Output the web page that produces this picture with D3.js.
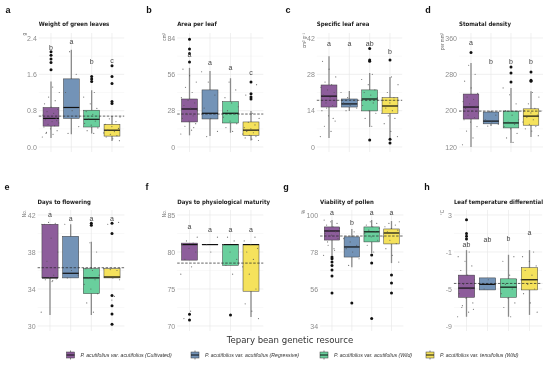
<!DOCTYPE html>
<html><head><meta charset="utf-8">
<script src="https://cdn.jsdelivr.net/npm/d3@7"></script>
<style>body{margin:0;background:#fff}svg{display:block;will-change:transform}text{-webkit-font-smoothing:antialiased}</style>
</head><body><svg id="c" width="550" height="366"></svg>
<script>
// ---------- DATA ----------
const groups = ["P. acutifolius var. acutifolius  (Cultivated)","P. acutifolius var. acutifolius (Regressive)","P. acutifolius var. acutifolius (Wild)","P. acutifolius var. tenuifolius (Wild)"];
const panelIds = ["a","b","c","d","e","f","g","h"];
const panelTitles = ["Weight of green leaves","Area per leaf","Specific leaf area","Stomatal density","Days to flowering","Days to physiological maturity","Viability of pollen","Leaf temperature differential"];
const panelUnits = ["g","cm²","cm² g⁻¹","per mm²","No.","No.","%","°C"];
const xTitle = "Tepary bean genetic resource";

// box stats per group: [lower whisker, q1, median, q3, upper whisker]
const aTicks=[0,0.8,1.6,2.4], aTickLabels=["0.0","0.8","1.6","2.4"];
const aBox=[[0.2,0.46,0.63,0.87,1.44],[0.28,0.63,0.87,1.5,2.14],[0.3,0.44,0.61,0.81,1.25],[0.13,0.24,0.37,0.5,0.68]];
const aOut=[[2.1,2.02,1.94,1.86,1.7],[],[1.55,1.5,1.44],[1.79,1.55,1.4,1.0,0.96]];
const aPts=[[0.22,0.28,0.32,0.36,0.4,0.44,0.47,0.5,0.53,0.56,0.6,0.63,0.66,0.7,0.74,0.78,0.83,0.88,0.95,1.02,1.1,1.2,1.32,0.3,0.58],[0.3,0.45,0.8,1.2,1.6,2.1],[0.3,0.36,0.42,0.48,0.52,0.57,0.62,0.66,0.72,0.78,0.85,0.95,1.1,1.2],[0.14,0.18,0.22,0.25,0.28,0.31,0.34,0.37,0.41,0.45,0.5,0.56,0.62,0.66]];
const aSig=["b","a","b","c"], aSigAt=[2.2,2.33,1.88,1.9], aMean=0.68;

const bTicks=[0,28,56,84], bTickLabels=["0","28","56","84"];
const bBox=[[9,19.3,29.3,37,61],[8.5,21.6,26,44,58.5],[11,18.5,26,35,53],[5,9,13,19.3,27.7]];
const bOut=[[83,75.5,72,65.5],[],[],[50,41,38.5,37]];
const bPts=[[10,13,16,18,20,22,24,26,28,30,32,34,36,38,42,46,50,55,60,15,25],[8,12,22,30,40,50,58],[12,15,18,20,23,26,28,31,34,38,44,50],[5,6,7,8,9,10,11,12,13,14,15,17,19,22,26,40,48]];
const bSig=["a","a","a","c"], bSigAt=[70.9,64.7,60.9,57], bMean=25.4;

const cTicks=[0,14,28,42], cTickLabels=["0","14","28","42"];
const cBox=[[3.5,15.4,19.6,23.9,35],[13.9,15.4,16.6,18.5,21.6],[7.7,13.9,18.5,22,28.5],[3.5,13,15.8,19,27]];
const cOut=[[],[],[38,33.5,33,2.7],[33.5,3,1.5]];
const cPts=[[4,6,8,10,12,14,16,17,18,19,20,21,22,23,24,25,27,30,33,11,15],[14,15,16,17,18,19,21],[8,11,13,14,16,17,18,19,20,21,22,24,26,28],[4,6,9,11,12,13,14,15,16,17,18,19,21,24,27]];
const cSig=["a","a","ab","b"], cSigAt=[40,39.7,40,36.6], cMean=18;

const dTicks=[120,200,280,360], dTickLabels=["120","200","280","360"];
const dBox=[[120,181.6,208,236.6,305],[166,171,177,197,199],[129,162,173,199,250],[142,168,188,204,243]];
const dOut=[[328],[],[296,283,263],[285,267,265]];
const dPts=[[125,140,155,165,175,180,185,190,195,200,205,210,215,220,225,230,238,250,265,280,300],[166,170,175,180,190,198],[130,140,150,160,165,170,175,180,190,200,215,235,250],[145,155,160,165,170,175,180,185,190,195,200,205,215,230,240]];
const dSig=["a","b","b","b"], dSigAt=[349,309,309,309], dMean=199;

const eTicks=[30,34,38,42], eTickLabels=["30","34","38","42"];
const eBox=[[31.2,35.2,35.2,41,41],[35.2,35.2,35.7,39.7,41],[31.2,33.5,35.2,36.2,39.1],[35.2,35.2,35.3,36.2,36.2]];
const eOut=[[],[],[41.1,40.9],[41.1,40,33.3,32.2,31.3,30.2]];
const ePts=[[31.5,34.8,35,35.1,35.2,35.3,35.5,37,38,39.5,41,41.1,41.2,41.0,34.9],[35.2,35.5,36,41],[31.5,32.5,33.5,34,34.5,35,35.2,35.5,36,36.2,38,39],[35,35.2,35.3,36,36.1,36.2,33.2,41,41.2,32.8]];
const eSig=["a","a","a","a"], eSigAt=[42.1,41.6,41.6,41.6], eMean=36.3;

const fTicks=[70,75,80,85], fTickLabels=["70","75","80","85"];
const fBox=[[78.9,78.9,81,81.2,81.2],[81,81,81,81,81],[78.2,78.2,81,81,81],[71.2,74.7,81,81,81]];
const fOut=[[71.6,70.8],[],[71.5],[]];
const fPts=[[77,78,79,80,80.5,81,81.2,81.5,82,72,71],[81,82,80],[77,78.2,79,80,81,81.5,82],[71,72,73,75,77,78,79,80,80.5,81,81.5,82]];
const fSig=["a","a","a","a"], fSigAt=[83.4,83.1,83,83], fMean=78.5;

const gTicks=[34,56,78,100], gTickLabels=["34","56","78","100"];
const gBox=[[76,85.1,90.5,92.9,97],[69,75,81,87,91.7],[77.4,84,90,92.9,97],[71.4,82.8,89.3,91.7,96.4]];
const gOut=[[75,74,72,70,67.3,63.7,53.6],[47.7],[76.2,71.4,38.5],[64.3,59.6,53.6]];
const gPts=[[76,80,84,86,88,89,90,91,92,93,94,95,96,97,79,82],[70,74,78,80,82,84,86,90],[78,82,85,87,89,90,91,92,93,94,95,96],[72,76,80,83,85,87,89,90,91,92,93,94,95,96]];
const gSig=["a","b","a","a"], gSigAt=[101.2,95.8,101.2,101.2], gMean=87.5;

const hTicks=[-9,-5,-1,3], hTickLabels=["-9","-5","-1","3"];
const hBox=[[-8,-5.9,-4.9,-3.5,-0.8],[-5.1,-5.1,-4.5,-3.8,-3.8],[-8,-5.9,-4.8,-3.9,-1.3],[-7.8,-5.1,-4.0,-2.7,-0.8]];
const hOut=[[2.5,1.0,0.7,0.4],[],[],[]];
const hPts=[[-8,-7.5,-7,-6.5,-6,-5.5,-5,-4.5,-4,-3.5,-3,-2.5,-2,-1.5,-1,-6.8,-7.2],[-5,-4.5,-4],[-8,-7,-6.5,-6,-5.5,-5,-4.5,-4,-3.5,-2,-1.5],[-7.5,-6.5,-5.5,-5,-4.5,-4,-3.5,-3,-2.5,-2,-1.5,-1]];
const hSig=["ab","ab","b","a"], hSigAt=[-0.24,0.3,0.5,1.05], hMean=-4.4;

// ---------- STYLE / LAYOUT ----------
const colors=["#8d5d9b","#7393b7","#69cf9d","#f5e25c"];
const layout=[
 {c0:51,c3:112,row:0,lx:8},{c0:189.5,c3:251,row:0,lx:149},{c0:329,c3:390,row:0,lx:288},{c0:471,c3:531,row:0,lx:428},
 {c0:50,c3:112,row:1,lx:7},{c0:189.5,c3:251,row:1,lx:147},{c0:332,c3:391.5,row:1,lx:286},{c0:466.5,c3:529.5,row:1,lx:427}];
const rows=[{r:[147,38],pan:[33,152],title:24,letter:13},{r:[326,215],pan:[210,331],title:202,letter:189.5}];

const panels=[
 {ticks:aTicks,labels:aTickLabels,box:aBox,out:aOut,pts:aPts,sig:aSig,sigAt:aSigAt,mean:aMean},
 {ticks:bTicks,labels:bTickLabels,box:bBox,out:bOut,pts:bPts,sig:bSig,sigAt:bSigAt,mean:bMean},
 {ticks:cTicks,labels:cTickLabels,box:cBox,out:cOut,pts:cPts,sig:cSig,sigAt:cSigAt,mean:cMean},
 {ticks:dTicks,labels:dTickLabels,box:dBox,out:dOut,pts:dPts,sig:dSig,sigAt:dSigAt,mean:dMean},
 {ticks:eTicks,labels:eTickLabels,box:eBox,out:eOut,pts:ePts,sig:eSig,sigAt:eSigAt,mean:eMean},
 {ticks:fTicks,labels:fTickLabels,box:fBox,out:fOut,pts:fPts,sig:fSig,sigAt:fSigAt,mean:fMean},
 {ticks:gTicks,labels:gTickLabels,box:gBox,out:gOut,pts:gPts,sig:gSig,sigAt:gSigAt,mean:gMean},
 {ticks:hTicks,labels:hTickLabels,box:hBox,out:hOut,pts:hPts,sig:hSig,sigAt:hSigAt,mean:hMean}];

const svg=d3.select("#c");
const FONT="'Liberation Sans', Arial, sans-serif";
const NARROW="'Liberation Sans Narrow', 'Arial Narrow', 'DejaVu Sans Condensed', sans-serif";

panels.forEach((p,pi)=>{
  const L=layout[pi], R=rows[L.row];
  const x=d3.scalePoint().domain(groups).range([L.c0,L.c3]);
  const step=(L.c3-L.c0)/3;
  const left=L.c0-0.6*step, right=L.c3+0.6*step;
  const y=d3.scaleLinear().domain([p.ticks[0],p.ticks[3]]).range(R.r);
  const g=svg.append("g");
  const minors=[];
  for(let i=0;i<3;i++) minors.push((p.ticks[i]+p.ticks[i+1])/2);
  g.selectAll(".mn").data(minors).join("line").attr("x1",left).attr("x2",right)
    .attr("y1",d=>y(d)).attr("y2",d=>y(d)).attr("stroke","#f2f2f2").attr("stroke-width",0.5);
  g.selectAll(".mj").data(p.ticks).join("line").attr("x1",left).attr("x2",right)
    .attr("y1",d=>y(d)).attr("y2",d=>y(d)).attr("stroke","#e6e6e6").attr("stroke-width",0.6);
  g.selectAll(".vg").data(groups).join("line").attr("x1",d=>x(d)).attr("x2",d=>x(d))
    .attr("y1",R.pan[0]).attr("y2",R.pan[1]).attr("stroke","#e6e6e6").attr("stroke-width",0.6);
  const ax=g.append("g").attr("transform",`translate(${left},0)`)
    .call(d3.axisLeft(y).tickValues(p.ticks).tickFormat((d,i)=>p.labels[i]).tickSize(0).tickPadding(2));
  ax.select(".domain").remove();
  ax.selectAll("text").attr("fill","#8c8c8c").style("font-family",FONT).style("font-size","7px");
  let maxW=0; ax.selectAll("text").each(function(){maxW=Math.max(maxW,this.getComputedTextLength());});
  g.append("text").attr("transform",`translate(${left-2-maxW-1.5},${y(p.ticks[3])-5}) rotate(-90)`)
    .attr("text-anchor","end").style("font-family",FONT).style("font-size","4.6px").attr("fill","#666").text(panelUnits[pi]);
  svg.append("text").attr("x",left).attr("y",R.title).attr("dy","0.35em").style("font-family",NARROW)
    .style("font-weight","bold").style("font-size","6px").attr("fill","#222").text(panelTitles[pi]);
  svg.append("text").attr("x",L.lx).attr("y",R.letter).attr("text-anchor","middle").style("font-family",FONT)
    .style("font-weight","bold").style("font-size","9px").attr("fill","#111").text(panelIds[pi]);
  const bw=step*0.78;
  g.selectAll(".wh").data(p.box).join("line").attr("x1",(d,i)=>x(groups[i])).attr("x2",(d,i)=>x(groups[i]))
    .attr("y1",d=>y(d[0])).attr("y2",d=>y(d[4])).attr("stroke","#8a8a8a").attr("stroke-width",1.3);
  g.selectAll(".bx").data(p.box).join("rect").attr("x",(d,i)=>x(groups[i])-bw/2).attr("width",bw)
    .attr("y",d=>y(d[3])).attr("height",d=>Math.max(0.01,y(d[1])-y(d[3])))
    .attr("fill",(d,i)=>colors[i]).attr("stroke","#3a3a3a").attr("stroke-width",0.5);
  g.append("line").attr("x1",left).attr("x2",right).attr("y1",y(p.mean)).attr("y2",y(p.mean))
    .attr("stroke","#222").attr("stroke-width",0.7).attr("stroke-dasharray","2.5,1.5");
  g.selectAll(".md").data(p.box).join("line").attr("x1",(d,i)=>x(groups[i])-bw/2).attr("x2",(d,i)=>x(groups[i])+bw/2)
    .attr("y1",d=>y(d[2])).attr("y2",d=>y(d[2])).attr("stroke","#111").attr("stroke-width",1.2);
  p.pts.forEach((arr,gi)=>{
    g.selectAll(null).data(arr).join("circle")
      .attr("cx",(d,k)=>x(groups[gi])+(((k*0.6180339+0.31*gi)%1)-0.5)*step*0.85)
      .attr("cy",d=>y(d)).attr("r",0.6).attr("fill","#555").attr("opacity",0.8);
  });
  p.out.forEach((arr,gi)=>{
    g.selectAll(null).data(arr).join("circle").attr("cx",x(groups[gi])).attr("cy",d=>y(d))
      .attr("r",1.5).attr("fill","#111");
  });
  g.selectAll(".sg").data(p.sig).join("text").attr("x",(d,i)=>x(groups[i])).attr("y",(d,i)=>y(p.sigAt[i]))
    .attr("dy","0.35em").attr("text-anchor","middle").style("font-family",FONT).style("font-size","7px")
    .attr("fill","#444").text(d=>d);
});

svg.append("text").attr("x",290).attr("y",340).attr("dy","0.35em").attr("text-anchor","middle")
  .style("font-family",NARROW).style("font-size","9.5px").attr("fill","#333").text(xTitle);
const legX=[70.5,195,324,430];
groups.forEach((gname,i)=>{
  const cx=legX[i], cy=355;
  svg.append("line").attr("x1",cx).attr("x2",cx).attr("y1",cy-4.5).attr("y2",cy+4.5).attr("stroke","#8a8a8a").attr("stroke-width",1);
  svg.append("rect").attr("x",cx-4).attr("y",cy-3).attr("width",8).attr("height",6).attr("fill",colors[i]).attr("stroke","#3a3a3a").attr("stroke-width",0.5);
  svg.append("line").attr("x1",cx-4).attr("x2",cx+4).attr("y1",cy).attr("y2",cy).attr("stroke","#111").attr("stroke-width",1);
  svg.append("text").attr("x",cx+10).attr("y",cy).attr("dy","0.35em").style("font-family",FONT).style("font-style","italic")
    .style("font-size","5.2px").attr("fill","#333").text(gname);
});
</script></body></html>
